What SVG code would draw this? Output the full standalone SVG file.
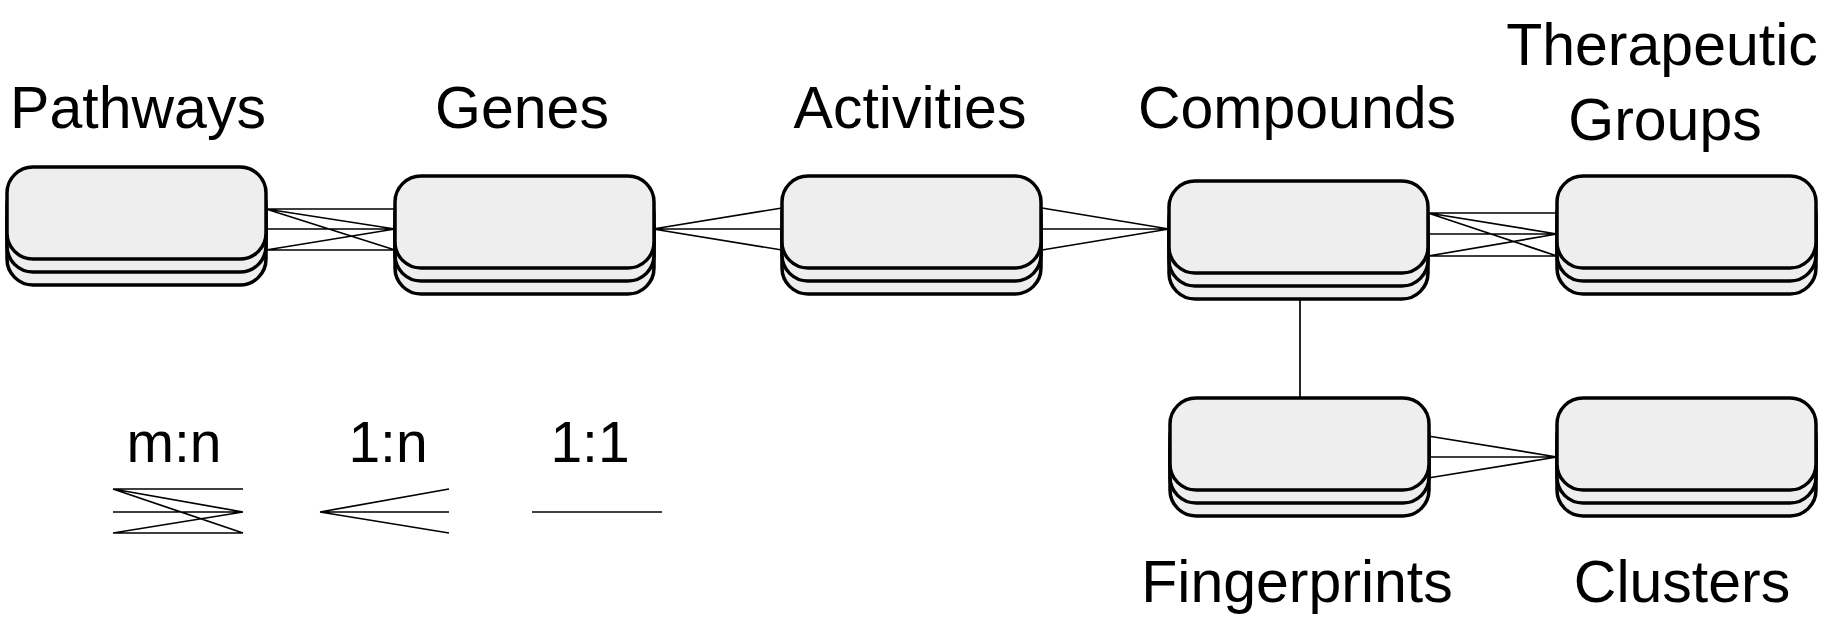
<svg xmlns="http://www.w3.org/2000/svg" width="1823" height="629" viewBox="0 0 1823 629">
<defs>
<style>
.box{fill:#eeeeee;stroke:#000;stroke-width:3.5}
.c{stroke:#000;stroke-width:1.7;fill:none}
.t{font-family:"Liberation Sans",Arial,sans-serif;font-size:59px;fill:#000;text-anchor:middle}
.lg{font-family:"Liberation Sans",Arial,sans-serif;font-size:57px;fill:#000;text-anchor:middle}
</style>
<g id="stack">
<rect class="box" x="0" y="26" width="259" height="92" rx="26"/>
<rect class="box" x="0" y="13" width="259" height="92" rx="26"/>
<rect class="box" x="0" y="0" width="259" height="92" rx="26"/>
</g>
</defs>
<g id="connectors">
<path class="c" d="M266,209H395M266,229H395M266,250H395M266,209L395,229M266,209L395,250M266,250L395,229"/>
<path class="c" d="M653,229L782,208M653,229H782M653,229L782,250"/>
<path class="c" d="M1042,208L1169,229M1042,229H1169M1042,250L1169,229"/>
<path class="c" d="M1428,213H1557M1428,234H1557M1428,256H1557M1428,213L1557,234M1428,213L1557,256M1428,256L1557,234"/>
<path class="c" d="M1300,299V398"/>
<path class="c" d="M1428,436L1557,457M1428,457H1557M1428,478L1557,457"/>
</g>
<g id="pathways"><use href="#stack" x="7" y="167"/><text class="t" x="138" y="128">Pathways</text></g>
<g id="genes"><use href="#stack" x="395" y="176"/><text class="t" x="522" y="128">Genes</text></g>
<g id="activities"><use href="#stack" x="782" y="176"/><text class="t" x="910" y="128">Activities</text></g>
<g id="compounds"><use href="#stack" x="1169" y="181"/><text class="t" x="1297" y="128">Compounds</text></g>
<g id="therapeutic-groups"><use href="#stack" x="1557" y="176"/><text class="t" x="1662" y="65">Therapeutic</text><text class="t" x="1665" y="140">Groups</text></g>
<g id="fingerprints"><use href="#stack" x="1170" y="398"/><text class="t" x="1297" y="602">Fingerprints</text></g>
<g id="clusters"><use href="#stack" x="1557" y="398"/><text class="t" x="1682" y="602">Clusters</text></g>
<g id="legend">
<text class="lg" x="174" y="462">m:n</text>
<text class="lg" x="388" y="462">1:n</text>
<text class="lg" x="590" y="462">1:1</text>
<path class="c" d="M113,489H243M113,512H243M113,533H243M113,489L243,512M113,489L243,533M113,533L243,512"/>
<path class="c" d="M320,512L449,489M320,512H449M320,512L449,533"/>
<path class="c" d="M532,512H662"/>
</g>
</svg>
